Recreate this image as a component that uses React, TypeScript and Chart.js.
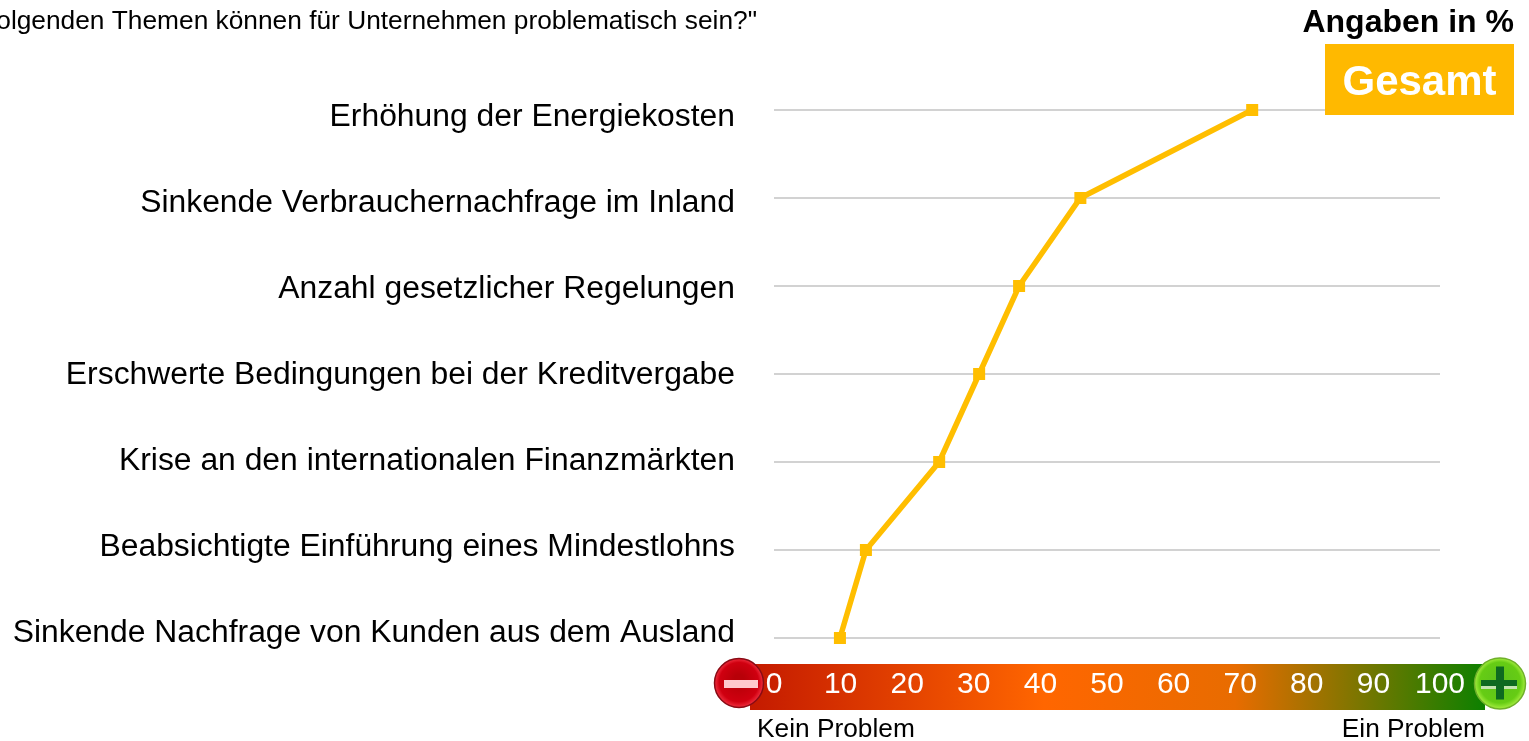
import React, { useEffect, useRef } from "react";
import { Chart, registerables } from "chart.js";

Chart.register(...registerables);

const categories = [
  "Erhöhung der Energiekosten",
  "Sinkende Verbrauchernachfrage im Inland",
  "Anzahl gesetzlicher Regelungen",
  "Erschwerte Bedingungen bei der Kreditvergabe",
  "Krise an den internationalen Finanzmärkten",
  "Beabsichtigte Einführung eines Mindestlohns",
  "Sinkende Nachfrage von Kunden aus dem Ausland",
];
const gesamt = [71.8, 46, 36.8, 30.8, 24.8, 13.8, 9.9];
const seriesName = "Gesamt";
const questionText = "folgenden Themen können für Unternehmen problematisch sein?\"";
const unitText = "Angaben in %";
const lowLabel = "Kein Problem";
const highLabel = "Ein Problem";

const FONT = "'Liberation Sans', Arial, sans-serif";
const AMBER = "#FFB900";

function drawIcon(ctx: CanvasRenderingContext2D, cx: number, cy: number, r: number, plus: boolean) {
  const g = ctx.createRadialGradient(cx, cy - r * 0.15, r * 0.2, cx, cy, r);
  if (plus) {
    g.addColorStop(0, "#5FC41A");
    g.addColorStop(0.75, "#66CC14");
    g.addColorStop(1, "#A6EE40");
  } else {
    g.addColorStop(0, "#B80008");
    g.addColorStop(0.75, "#D00010");
    g.addColorStop(1, "#F03040");
  }
  ctx.beginPath();
  ctx.arc(cx, cy, r, 0, Math.PI * 2);
  ctx.fillStyle = g;
  ctx.fill();
  ctx.lineWidth = 1.5;
  ctx.strokeStyle = plus ? "#6FB02A" : "#8A0A14";
  ctx.stroke();
  if (plus) {
    ctx.fillStyle = "#0E6A20";
    ctx.fillRect(cx - 19, cy - 3.5, 36, 6);
    ctx.fillRect(cx - 4, cy - 17, 8, 33);
    ctx.fillStyle = "#C4E4B0";
    ctx.fillRect(cx - 19, cy + 2.5, 15, 3);
    ctx.fillRect(cx + 4, cy + 2.5, 13, 3);
  } else {
    ctx.fillStyle = "#FFC8CC";
    ctx.fillRect(cx - 15, cy - 3, 34, 8);
  }
}

const decorations = {
  id: "decorations",
  beforeDraw(chart: any) {
    const { ctx, scales } = chart;
    const x = scales.x;
    const left = x.getPixelForValue(0) - 24;
    const right = x.getPixelForValue(100) + 45;
    const g = ctx.createLinearGradient(left, 0, right, 0);
    g.addColorStop(0, "#C41A00");
    g.addColorStop(0.4, "#FF6600");
    g.addColorStop(0.66, "#E86C00");
    g.addColorStop(1, "#0C8000");
    ctx.save();
    ctx.fillStyle = g;
    ctx.fillRect(left, 664, right - left, 46);
    ctx.restore();
  },
  afterDraw(chart: any) {
    const { ctx, scales } = chart;
    const x = scales.x;
    ctx.save();
    drawIcon(ctx, x.getPixelForValue(0) - 35, 683, 24.5, false);
    drawIcon(ctx, x.getPixelForValue(100) + 60, 683.5, 25.5, true);

    ctx.textBaseline = "middle";
    ctx.fillStyle = "#000";
    ctx.font = `26.3px ${FONT}`;
    ctx.textAlign = "left";
    ctx.fillText(lowLabel, 757, 730);
    ctx.textAlign = "right";
    ctx.fillText(highLabel, 1485, 730);

    ctx.fillText(questionText, 757, 22);

    ctx.font = `bold 32px ${FONT}`;
    ctx.fillText(unitText, 1514, 23);

    ctx.fillStyle = AMBER;
    ctx.fillRect(1325, 44, 189, 71);
    ctx.fillStyle = "#fff";
    ctx.textAlign = "center";
    ctx.font = `bold 42px ${FONT}`;
    ctx.fillText(seriesName, 1419.5, 83);
    ctx.restore();
  },
};

export default function App() {
  const ref = useRef<HTMLCanvasElement>(null);
  useEffect(() => {
    const chart = new Chart(ref.current!, {
      type: "line",
      data: {
        labels: categories,
        datasets: [
          {
            label: seriesName,
            data: gesamt,
            borderColor: "#FFBE00",
            backgroundColor: "#FFBE00",
            borderWidth: 5.5,
            pointStyle: "rect",
            pointRadius: 8.5,
            pointBorderWidth: 0,
            tension: 0,
            clip: false,
            yAxisID: "y",
          },
        ],
      },
      options: {
        indexAxis: "y",
        responsive: false,
        animation: false,
        devicePixelRatio: 1,
        layout: { padding: { top: 110, right: 89, left: 0, bottom: 0 } },
        plugins: { legend: { display: false }, title: { display: false }, tooltip: { enabled: false } },
        scales: {
          x: {
            type: "linear",
            min: 0,
            max: 100,
            position: "bottom",
            border: { display: false },
            grid: { display: false, drawTicks: false },
            ticks: {
              stepSize: 10,
              autoSkip: false,
              maxRotation: 0,
              padding: 29,
              color: "#fff",
              font: { family: FONT, size: 30 },
            },
            afterFit(s: any) {
              s.height = 103;
            },
          },
          y: {
            type: "category",
            position: "left",
            offset: false,
            border: { display: false },
            grid: { color: "#D2D2D2", lineWidth: 2, drawTicks: false },
            ticks: { display: false },
            afterFit(s: any) {
              s.width = 0;
            },
          },
          yLabels: {
            type: "linear",
            position: "left",
            reverse: true,
            min: -0.0814,
            max: 6.0581,
            border: { display: false },
            grid: { display: false, drawTicks: false },
            afterBuildTicks(s: any) {
              s.ticks = categories.map((_, i) => ({ value: i }));
            },
            ticks: {
              autoSkip: false,
              padding: 39,
              color: "#000",
              font: { family: FONT, size: 31.85 },
              callback: (v: any) => categories[v as number] ?? "",
            },
            afterFit(s: any) {
              s.width = 774;
            },
          },
        },
      } as any,
      plugins: [decorations],
    });
    return () => chart.destroy();
  }, []);
  return (
    <canvas
      ref={ref}
      width={1529}
      height={741}
      style={{ position: "absolute", left: 0, top: 0, display: "block", width: 1529, height: 741 }}
    />
  );
}
